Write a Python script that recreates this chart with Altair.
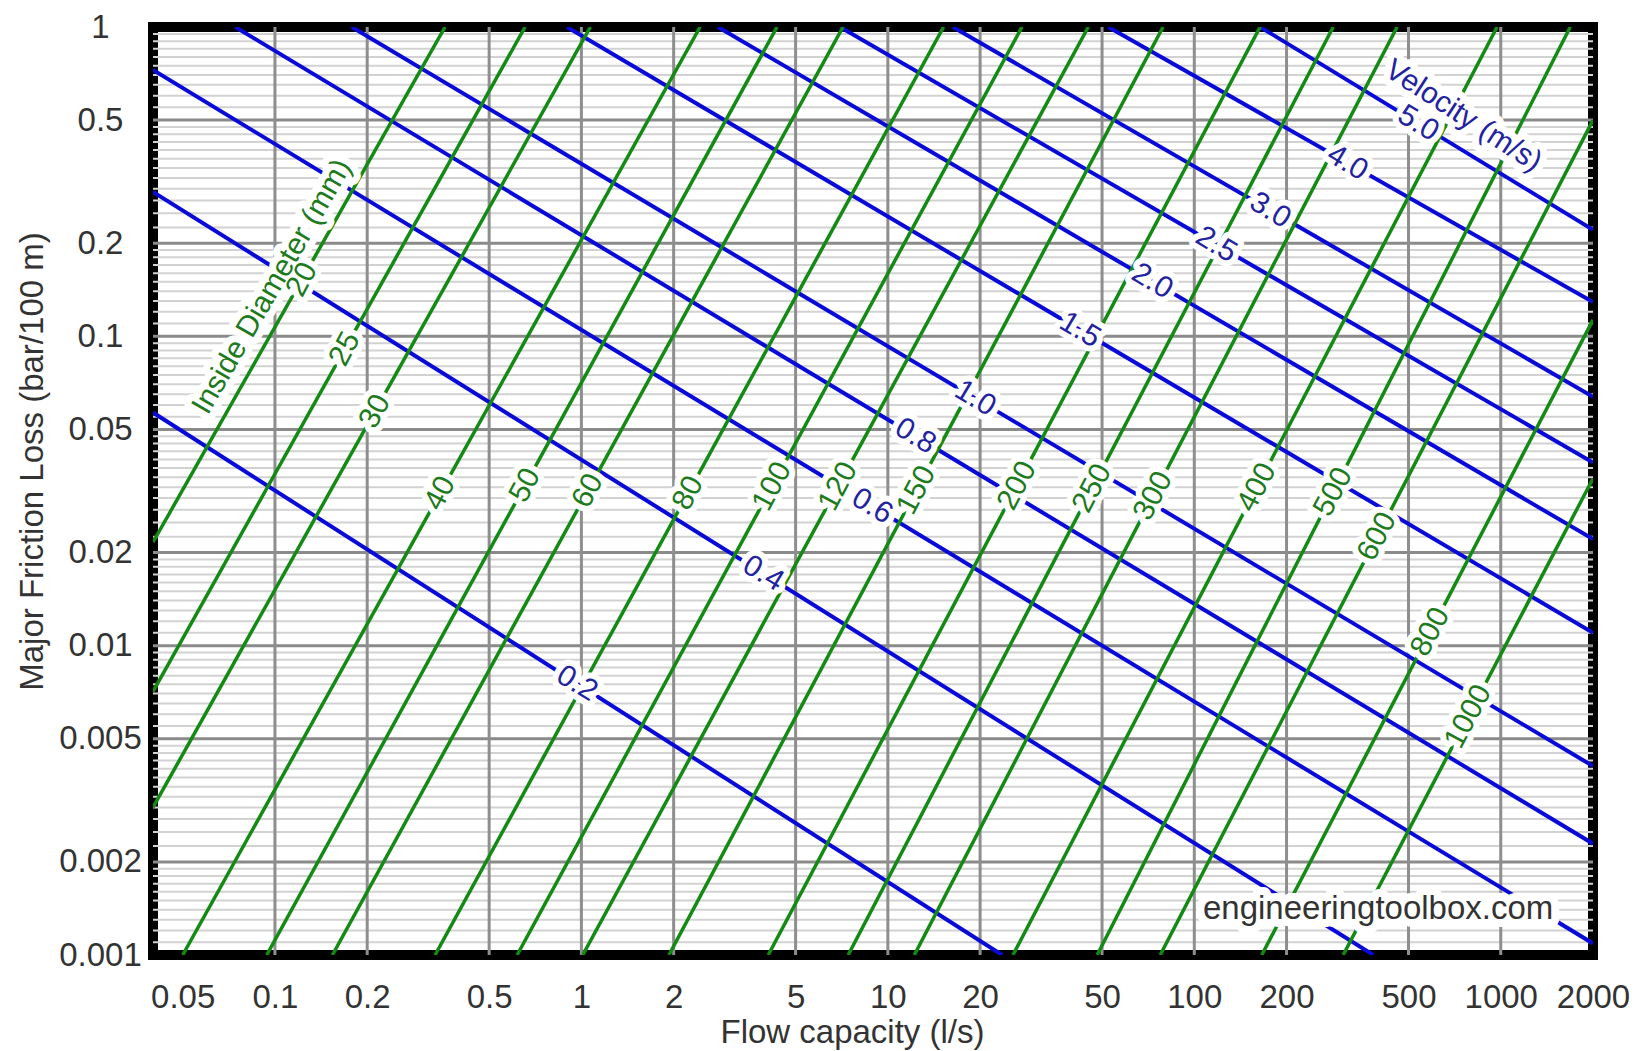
import math
import altair as alt
import pandas as pd

# ---------------- values ----------------
x_ticks = [0.05, 0.1, 0.2, 0.5, 1, 2, 5, 10, 20, 50, 100, 200, 500, 1000, 2000]
x_grid = [0.1, 0.2, 0.5, 1, 2, 5, 10, 20, 50, 100, 200, 500, 1000]
y_ticks = [0.001, 0.002, 0.005, 0.01, 0.02, 0.05, 0.1, 0.2, 0.5, 1]
y_grid_major = [0.002, 0.005, 0.01, 0.02, 0.05, 0.1, 0.2, 0.5]
minor_mult = [1.1, 1.2, 1.3, 1.4, 1.5, 1.6, 1.7, 1.8, 1.9,
              2.25, 2.5, 2.75, 3, 3.25, 3.5, 3.75, 4, 4.25, 4.5, 4.75,
              5.5, 6, 6.5, 7, 7.5, 8, 8.5, 9, 9.5]
minor_decades = [0.001, 0.01, 0.1]

# Inside diameter lines (mm): end points (flow l/s, loss bar/100 m)
dia_names = ["20", "25", "30", "40", "50", "60", "80", "100", "120", "150",
             "200", "250", "300", "400", "500", "600", "800", "1000"]
dia_q1 = [0.04, 0.04, 0.04, 0.050, 0.094, 0.154, 0.333, 0.617, 1.01, 1.93,
          4.07, 7.42, 12.2, 25.6, 48.2, 77.4, 166, 306]
dia_h1 = [0.0216, 0.0071, 0.0030, 0.001, 0.001, 0.001, 0.001, 0.001, 0.001, 0.001,
          0.001, 0.001, 0.001, 0.001, 0.001, 0.001, 0.001, 0.001]
dia_q2 = [0.359, 0.655, 1.07, 2.44, 4.35, 7.14, 15.2, 27.4, 45.1, 79.1,
          164, 284, 459, 973, 1686, 2000, 2000, 2000]
dia_h2 = [1, 1, 1, 1, 1, 1, 1, 1, 1, 1,
          1, 1, 1, 1, 1, 0.50, 0.113, 0.0347]
dia_label_q = [0.1225, 0.169, 0.212, 0.346, 0.655, 1.05, 2.23, 4.19, 6.88, 12.4,
               26.4, 46.4, 73.4, 160, 284, 395, 589, 783]

# Velocity lines (m/s)
vel_names = ["0.2", "0.4", "0.6", "0.8", "1.0", "1.5", "2.0", "2.5", "3.0", "4.0", "5.0"]
vel_q1 = [0.04, 0.04, 0.04, 0.0742, 0.178, 0.897, 2.79, 6.98, 16.3, 52.4, 164]
vel_h1 = [0.0567, 0.293, 0.726, 1, 1, 1, 1, 1, 1, 1, 1]
vel_q2 = [23.6, 384, 2000, 2000, 2000, 2000, 2000, 2000, 2000, 2000, 2000]
vel_h2 = [0.001, 0.001, 0.00109, 0.00229, 0.00408, 0.0110, 0.0221, 0.0391, 0.0638, 0.129, 0.221]
vel_label_q = [0.968, 3.92, 8.89, 12.3, 19.3, 42.4, 72.9, 118, 177, 316, 538]

# free text labels
title_texts = ["Inside Diameter (mm)", "Velocity (m/s)"]
title_q = [0.0978, 755]
title_h = [0.1447, 0.516]

watermark_q = [398]
watermark_h = [0.00141]

# ---------------- tables ----------------
def on_line(q, q1, h1, q2, h2):
    t = (math.log10(q) - math.log10(q1)) / (math.log10(q2) - math.log10(q1))
    return 10 ** (math.log10(h1) + t * (math.log10(h2) - math.log10(h1)))

dia_rows, dia_lab = [], []
for n, a, b, c, d, lq in zip(dia_names, dia_q1, dia_h1, dia_q2, dia_h2, dia_label_q):
    dia_rows += [{"name": n, "Q": a, "h": b}, {"name": n, "Q": c, "h": d}]
    dia_lab.append({"name": n, "Q": lq, "h": on_line(lq, a, b, c, d)})
vel_rows, vel_lab = [], []
for n, a, b, c, d, lq in zip(vel_names, vel_q1, vel_h1, vel_q2, vel_h2, vel_label_q):
    vel_rows += [{"name": n, "Q": a, "h": b}, {"name": n, "Q": c, "h": d}]
    vel_lab.append({"name": n, "Q": lq, "h": on_line(lq, a, b, c, d)})

df_dia = pd.DataFrame(dia_rows)
df_vel = pd.DataFrame(vel_rows)
df_dia_lab = pd.DataFrame(dia_lab)
df_vel_lab = pd.DataFrame(vel_lab)
df_minor = pd.DataFrame({"h": [m * d for d in minor_decades for m in minor_mult]})
df_major = pd.DataFrame({"h": y_grid_major})
df_vgrid = pd.DataFrame({"Q": x_grid})
df_t1 = pd.DataFrame({"text": [title_texts[0]], "Q": [title_q[0]], "h": [title_h[0]]})
df_t2 = pd.DataFrame({"text": [title_texts[1]], "Q": [title_q[1]], "h": [title_h[1]]})
df_wm = pd.DataFrame({"text": ["engineeringtoolbox.com"], "Q": watermark_q, "h": watermark_h})

# ---------------- scales / axes ----------------
FONT = "Liberation Sans"
x_scale = alt.Scale(type="log", domain=[0.04, 2000], nice=False)
y_scale = alt.Scale(type="log", domain=[0.001, 1], nice=False)
x_axis = alt.Axis(values=x_ticks, format="~g", grid=False, ticks=False, domain=False,
                  labelFontSize=33, labelColor="#333333", labelFont=FONT, labelPadding=26,
                  labelFlush=False, labelOverlap=False,
                  title="Flow capacity (l/s)", titleFont=FONT, titleFontSize=33,
                  titleFontWeight="normal", titleColor="#333333",
                  titleX=699, titleY=77, titleBaseline="middle", titleAlign="center")
y_axis = alt.Axis(values=y_ticks, format="~g", grid=False, ticks=False, domain=False,
                  labelFontSize=33, labelColor="#333333", labelFont=FONT, labelPadding=53,
                  labelAlign="center", labelBaseline="middle", labelOverlap=False,
                  title="Major Friction Loss (bar/100 m)", titleFont=FONT, titleFontSize=33,
                  titleFontWeight="normal", titleColor="#333333",
                  titleX=-121, titleY=434, titleAngle=270, titleBaseline="middle",
                  titleAlign="center")

X = lambda: alt.X("Q:Q", scale=x_scale, axis=x_axis)
Y = lambda: alt.Y("h:Q", scale=y_scale, axis=y_axis)

minor = alt.Chart(df_minor).mark_rule(color="#d2d2d2", strokeWidth=2).encode(y=Y())
major = alt.Chart(df_major).mark_rule(color="#8a8a8a", strokeWidth=3).encode(y=Y())
vgrid = alt.Chart(df_vgrid).mark_rule(color="#8e8e8e", strokeWidth=3).encode(x=X())

blue_lines = alt.Chart(df_vel).mark_line(color="#0a0ad8", strokeWidth=4, clip=True).encode(
    x=X(), y=Y(), detail="name:N")
green_lines = alt.Chart(df_dia).mark_line(color="#138a13", strokeWidth=3.5, clip=True).encode(
    x=X(), y=Y(), detail="name:N")

def label_layer(df, field, color, size, angle, halo):
    base = alt.Chart(df).encode(x=X(), y=Y(), text=f"{field}:N")
    h = base.mark_text(font=FONT, fontSize=size, angle=angle, align="center", baseline="middle",
                       stroke="white", strokeWidth=halo, strokeJoin="round", color="white")
    t = base.mark_text(font=FONT, fontSize=size, angle=angle, align="center", baseline="middle",
                       color=color)
    return h, t

gh, gt = label_layer(df_dia_lab, "name", "#1d7a1d", 30, 298, 12)
bh, bt = label_layer(df_vel_lab, "name", "#2323a0", 30, 31, 12)
t1h, t1t = label_layer(df_t1, "text", "#1d7a1d", 30, 300, 14)
t2h, t2t = label_layer(df_t2, "text", "#2323a0", 30, 33, 14)
wh, wt = label_layer(df_wm, "text", "#333333", 33, 0, 16)

chart = alt.layer(
    minor, major, vgrid, blue_lines, green_lines,
    gh, bh, t1h, t2h, wh,
    gt, bt, t1t, t2t, wt,
).properties(
    width=1440, height=928,
    autosize=alt.AutoSizeParams(type="none"),
    padding={"left": 145, "top": 19, "right": 42, "bottom": 96},
    background="white",
).configure_view(stroke="black", strokeWidth=10)

chart.save("out.html", embed_options={"renderer": "svg", "actions": False})
